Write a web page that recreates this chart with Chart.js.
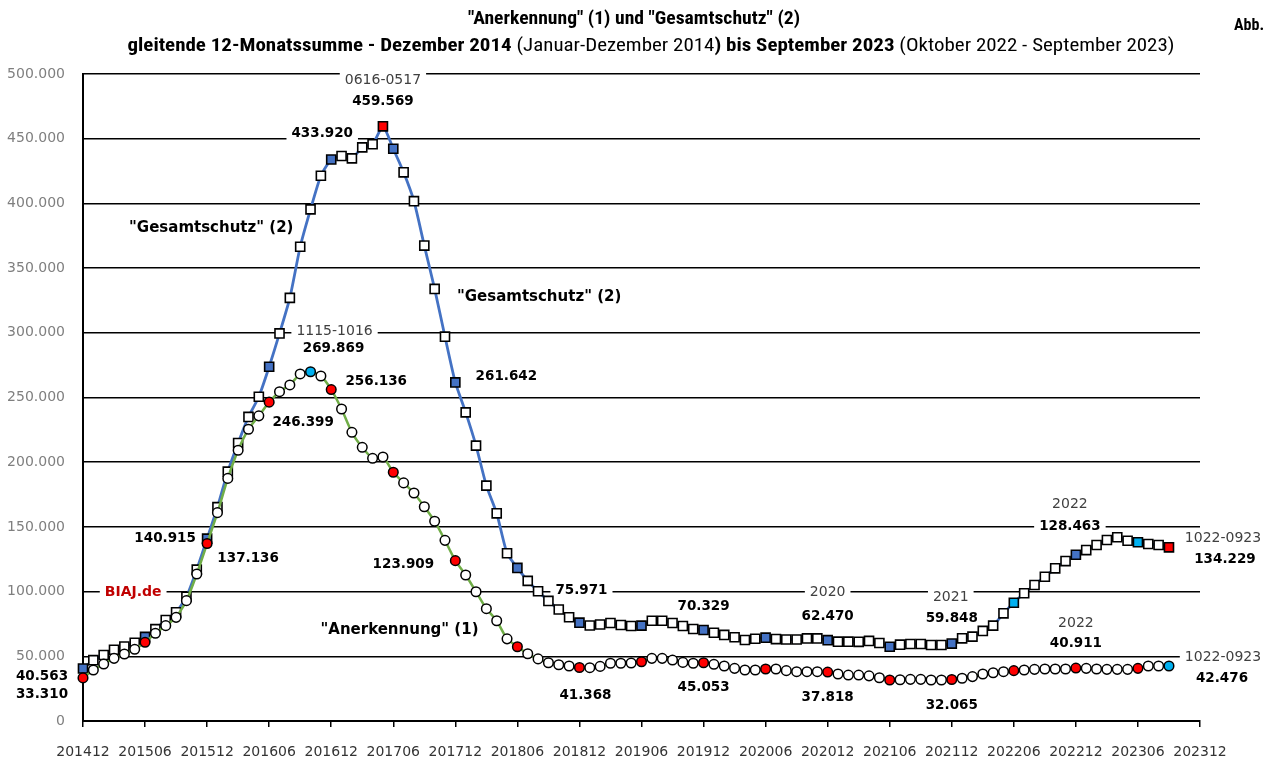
<!DOCTYPE html>
<html><head><meta charset="utf-8">
<script src="https://cdn.jsdelivr.net/npm/chart.js@4.4.1/dist/chart.umd.min.js"></script>
<style>html,body{margin:0;padding:0;background:#fff}canvas{display:block}</style>
</head><body>
<canvas id="c" width="1271" height="760"></canvas>
<script>
// x tick labels (every 6 months)
const tickLabels = ['201412','201506','201512','201606','201612','201706','201712','201806','201812',
  '201906','201912','202006','202012','202106','202112','202206','202212','202306','202312'];
// months 201412 .. 202309 (106 values each)
const gesamtschutz = [
  40563,47000,51000,55000,57500,60500,65000,71000,78000,84000,96000,117000,
  140915,165300,192700,214800,235000,250600,273800,299500,327000,366500,395400,421400,
  433920,436600,434800,443300,445700,459569,442200,424000,401700,367400,333900,297000,
  261642,238500,212800,181900,160500,129600,118300,108300,100300,92800,86200,80200,
  75971,73800,74600,75700,74200,73400,73700,77500,77500,75700,73400,71100,
  70329,68200,66500,64700,62600,63600,64400,63300,63000,63000,63800,63800,
  62470,61300,61300,61200,61900,60300,57400,59000,59500,59500,58700,58700,
  59848,63900,65200,69600,73700,83200,91400,98700,105100,111500,118000,123600,
  128463,132100,136000,139900,142000,139300,138100,136800,136000,134229
];
const anerkennung = [
  33310,39400,44000,48400,51800,55400,60800,67800,73700,80100,93000,113600,
  137136,161000,187500,209200,225500,235800,246399,254500,259700,268200,269869,266600,
  256136,241100,223100,211500,203000,204000,192200,184000,176200,165600,154400,139600,
  123909,112800,99900,86800,77500,63500,57400,52000,48000,45000,43500,42500,
  41368,41200,42200,44600,44600,44800,45800,48400,48400,47100,45300,44600,
  45053,43800,42500,40700,39400,39400,40200,40200,38900,38100,38100,38100,
  37818,36300,35500,35500,34900,33400,31700,31900,32200,32200,31700,31700,
  32065,33000,34300,36300,37300,38100,38900,39400,39900,40200,40200,40200,
  40911,40700,40200,39900,39900,39900,40700,42500,42500,42476
];
const gesRed = [29,105];
const gesCyan = [90,102];
const anCyan = [22,105];

// value labels anchored to data points
const pointLabels = [
  {s:'G',i:29,t:'0616-0517',b:false,dx:0,dy:-46,bg:true},
  {s:'G',i:29,t:'459.569',b:true,dx:0,dy:-25},
  {s:'G',i:24,t:'433.920',b:true,dx:-9,dy:-26,bg:true},
  {s:'A',i:22,t:'1115-1016',b:false,dx:24,dy:-40,bg:true},
  {s:'A',i:22,t:'269.869',b:true,dx:23,dy:-23},
  {s:'A',i:24,t:'256.136',b:true,dx:45,dy:-8},
  {s:'A',i:18,t:'246.399',b:true,dx:34,dy:20},
  {s:'G',i:36,t:'261.642',b:true,dx:51,dy:-6},
  {s:'G',i:12,t:'140.915',b:true,dx:-42,dy:0,bg:true},
  {s:'A',i:12,t:'137.136',b:true,dx:41,dy:15},
  {s:'A',i:36,t:'123.909',b:true,dx:-52,dy:4},
  {s:'G',i:0,t:'40.563',b:true,dx:-41,dy:8},
  {s:'A',i:0,t:'33.310',b:true,dx:-41,dy:17},
  {s:'G',i:48,t:'75.971',b:true,dx:2,dy:-32,bg:true},
  {s:'A',i:48,t:'41.368',b:true,dx:6,dy:28},
  {s:'G',i:60,t:'70.329',b:true,dx:0,dy:-23},
  {s:'A',i:60,t:'45.053',b:true,dx:0,dy:25},
  {s:'G',i:72,t:'2020',b:false,dx:0,dy:-48,bg:true},
  {s:'G',i:72,t:'62.470',b:true,dx:0,dy:-24},
  {s:'A',i:72,t:'37.818',b:true,dx:0,dy:25},
  {s:'G',i:84,t:'2021',b:false,dx:-1,dy:-46,bg:true},
  {s:'G',i:84,t:'59.848',b:true,dx:0,dy:-25},
  {s:'A',i:84,t:'32.065',b:true,dx:0,dy:26},
  {s:'G',i:96,t:'2022',b:false,dx:-6,dy:-50},
  {s:'G',i:96,t:'128.463',b:true,dx:-6,dy:-28,bg:true},
  {s:'A',i:96,t:'2022',b:false,dx:0,dy:-45},
  {s:'A',i:96,t:'40.911',b:true,dx:0,dy:-25},
  {s:'G',i:105,t:'1022-0923',b:false,dx:54,dy:-9,bg:true},
  {s:'G',i:105,t:'134.229',b:true,dx:56,dy:12},
  {s:'A',i:105,t:'1022-0923',b:false,dx:54,dy:-9,bg:true},
  {s:'A',i:105,t:'42.476',b:true,dx:53,dy:12}
];
// free text labels in data coordinates
const freeLabels = [
  {x:12.4,y:381000,t:'"Gesamtschutz" (2)',c:'#000',bg:false,fs:15},
  {x:44.1,y:327700,t:'"Gesamtschutz" (2)',c:'#000',bg:false,fs:15},
  {x:4.85,y:99700,t:'BIAJ.de',c:'#C00000',bg:true,fs:14},
  {x:30.6,y:70300,t:'"Anerkennung" (1)',c:'#000',bg:false,fs:15}
];
const titleLine1 = [{t:'"Anerkennung" (1) und "Gesamtschutz" (2)',b:true}];
const titleLine2 = [
  {t:'gleitende 12-Monatssumme - Dezember 2014 ',b:true},
  {t:'(Januar-Dezember 2014',b:false},
  {t:') bis September 2023 ',b:true},
  {t:'(Oktober 2022 - September 2023)',b:false}
];

const LBL_FONT = 'DejaVu Sans';
const TITLE_FONT = "'Liberation Sans Narrow','Roboto Condensed','DejaVu Sans Condensed','Liberation Sans',sans-serif";

function gesColor(i){ if(gesRed.includes(i)) return '#FF0000'; if(gesCyan.includes(i)) return '#00B0F0'; return i%6===0?'#4472C4':'#FFFFFF'; }
function anColor(i){ if(anCyan.includes(i)) return '#00B0F0'; return i%6===0?'#FF0000':'#FFFFFF'; }

function labelBox(ctx, chart, a){
  const xs=chart.scales.x, ys=chart.scales.y;
  const v = a.s==='G'?gesamtschutz[a.i]:anerkennung[a.i];
  const px = xs.getPixelForValue(a.i)+a.dx, py = ys.getPixelForValue(v)+a.dy;
  ctx.font = (a.b?'bold 13.5px ':'14px ')+LBL_FONT;
  const w = ctx.measureText(a.t).width;
  return {x:px-w/2,y:py,w};
}
function freeBox(ctx, chart, f){
  const px = chart.scales.x.getPixelForValue(f.x), py = chart.scales.y.getPixelForValue(f.y);
  ctx.font = 'bold '+f.fs+'px '+LBL_FONT;
  const w = ctx.measureText(f.t).width;
  return {x:px-w/2,y:py,w};
}

const labelPlugin = {
  id:'labels',
  beforeDatasetsDraw(chart){
    const ctx=chart.ctx; ctx.save(); ctx.fillStyle='#fff';
    pointLabels.filter(a=>a.bg).forEach(a=>{const r=labelBox(ctx,chart,a); ctx.fillRect(r.x-5,r.y-9,r.w+10,18);});
    freeLabels.filter(f=>f.bg).forEach(f=>{const r=freeBox(ctx,chart,f); ctx.fillRect(r.x-5,r.y-9,r.w+10,18);});
    ctx.restore();
  },
  afterDatasetsDraw(chart){
    const ctx=chart.ctx; ctx.save(); ctx.textBaseline='middle'; ctx.textAlign='left';
    pointLabels.forEach(a=>{const r=labelBox(ctx,chart,a); ctx.fillStyle=a.b?'#000':'#404040'; ctx.fillText(a.t,r.x,r.y);});
    freeLabels.forEach(f=>{const r=freeBox(ctx,chart,f); ctx.fillStyle=f.c; ctx.fillText(f.t,r.x,r.y);});
    ctx.restore();
  },
  afterDraw(chart){
    const ctx=chart.ctx; ctx.save(); ctx.textBaseline='middle'; ctx.textAlign='left'; ctx.fillStyle='#000';
    function drawLine(segs, cx, y, target, size){
      let tot=0; const ws=segs.map(s=>{ctx.font=(s.b?'bold ':'')+size+'px '+TITLE_FONT; const w=ctx.measureText(s.t).width; tot+=w; return w;});
      const sx = target/tot;
      ctx.save(); ctx.translate(cx-target/2,y); ctx.scale(sx,1);
      let x=0; segs.forEach((s,k)=>{ctx.font=(s.b?'bold ':'')+size+'px '+TITLE_FONT; ctx.fillText(s.t,x,0); x+=ws[k];});
      ctx.restore();
    }
    drawLine(titleLine1, 634, 19, 332, 18);
    drawLine(titleLine2, 651, 46, 1047, 18);
    ctx.font='bold 16px '+TITLE_FONT; ctx.fillText('Abb.',1234,26);
    ctx.restore();
  }
};

Chart.defaults.font.family = LBL_FONT;
new Chart(document.getElementById('c'), {
  type:'line',
  data:{datasets:[
    {label:'"Anerkennung" (1)', data:anerkennung.map((v,i)=>({x:i,y:v})),
     borderColor:'#70AD47', borderWidth:2.5, tension:0.2, clip:false,
     pointStyle:'circle', pointRadius:4.8, pointBorderColor:'#000', pointBorderWidth:1.5,
     pointBackgroundColor:c=>anColor(c.dataIndex)},
    {label:'"Gesamtschutz" (2)', data:gesamtschutz.map((v,i)=>({x:i,y:v})),
     borderColor:'#4472C4', borderWidth:2.8, tension:0.2, clip:false,
     pointStyle:'rect', pointRadius:6.4, pointBorderColor:'#000', pointBorderWidth:1.6,
     pointBackgroundColor:c=>gesColor(c.dataIndex)}
  ]},
  options:{
    responsive:false, animation:false, events:[],
    layout:{padding:{top:74,right:71,left:0,bottom:0}},
    plugins:{legend:{display:false},tooltip:{enabled:false}},
    scales:{
      x:{type:'linear',min:0,max:108,
        afterBuildTicks:s=>{s.ticks=tickLabels.map((_,k)=>({value:k*6}));},
        afterFit:s=>{s.height=39;},
        ticks:{autoSkip:false,maxRotation:0,padding:17,color:'#333',font:{size:14},callback:(v)=>tickLabels[Math.round(v/6)]},
        grid:{drawOnChartArea:false,drawTicks:true,tickLength:6,color:'#000',lineWidth:1.5},
        border:{display:true,color:'#000',width:2}},
      y:{min:0,max:500000,
        afterFit:s=>{s.width=83;},
        ticks:{stepSize:50000,padding:18,color:'#7F7F7F',font:{size:14},
          callback:v=>v===0?'0':(Math.round(v/1000))+'.000'},
        grid:{color:'#000',lineWidth:1.5,drawTicks:false},
        border:{display:true,color:'#000',width:2}}
    }
  },
  plugins:[labelPlugin]
});
</script>
</body></html>
